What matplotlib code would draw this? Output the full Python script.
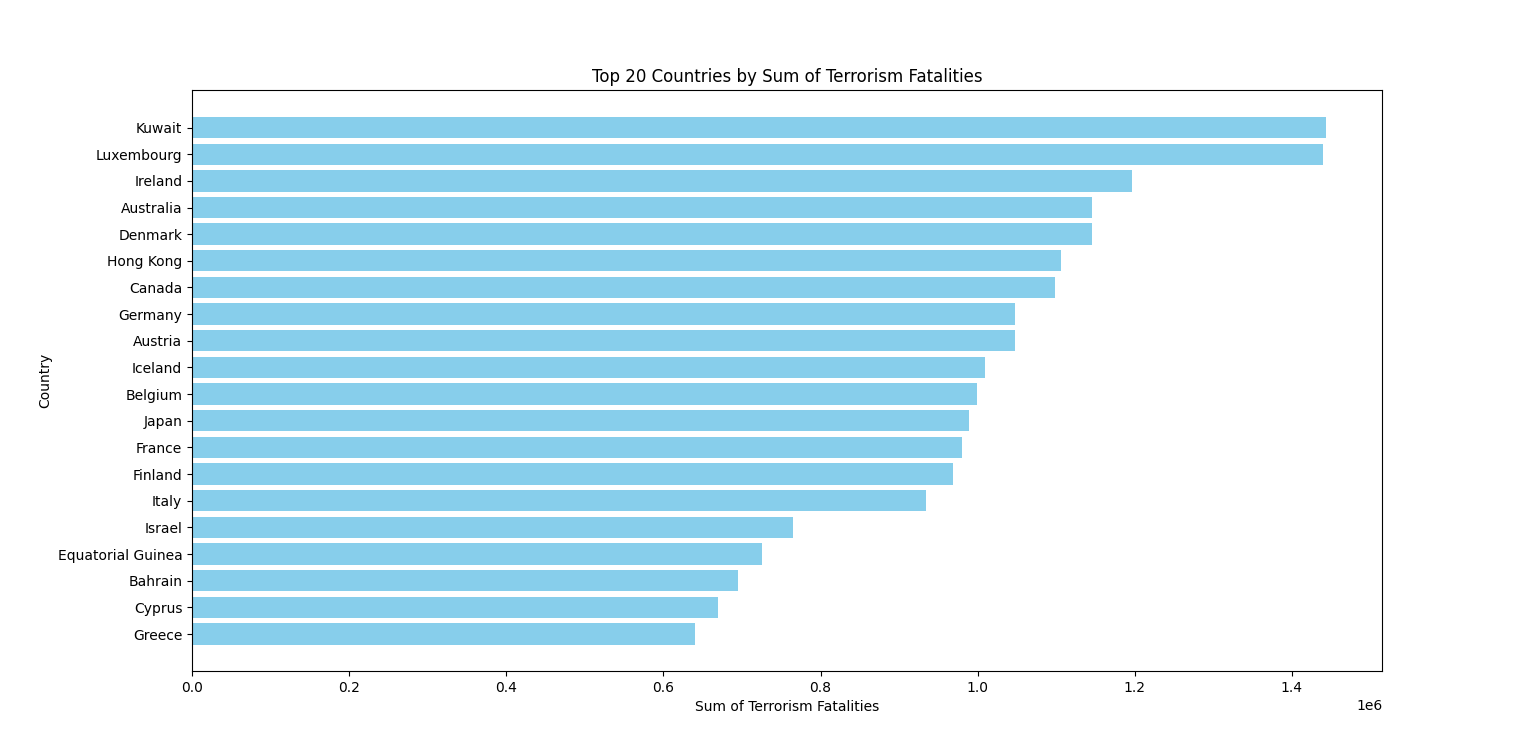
import matplotlib

matplotlib.use("Agg")
import matplotlib.pyplot as plt

countries = ["Kuwait", "Luxembourg", "Ireland", "Australia", "Denmark", "Hong Kong",
             "Canada", "Germany", "Austria", "Iceland", "Belgium", "Japan", "France",
             "Finland", "Italy", "Israel", "Equatorial Guinea", "Bahrain", "Cyprus", "Greece"]
fatalities = [1.443e6, 1.439e6, 1.196e6, 1.145e6, 1.145e6, 1.106e6, 1.099e6, 1.048e6,
              1.047e6, 1.009e6, 0.999e6, 0.989e6, 0.980e6, 0.968e6, 0.934e6, 0.765e6,
              0.726e6, 0.695e6, 0.670e6, 0.640e6]

fig, ax = plt.subplots(figsize=(15.36, 7.54), dpi=100)
ax.barh(countries, fatalities, color="skyblue")
ax.invert_yaxis()
ax.set_title("Top 20 Countries by Sum of Terrorism Fatalities")
ax.set_xlabel("Sum of Terrorism Fatalities")
ax.set_ylabel("Country")
fig.savefig("out.png", dpi=100)
